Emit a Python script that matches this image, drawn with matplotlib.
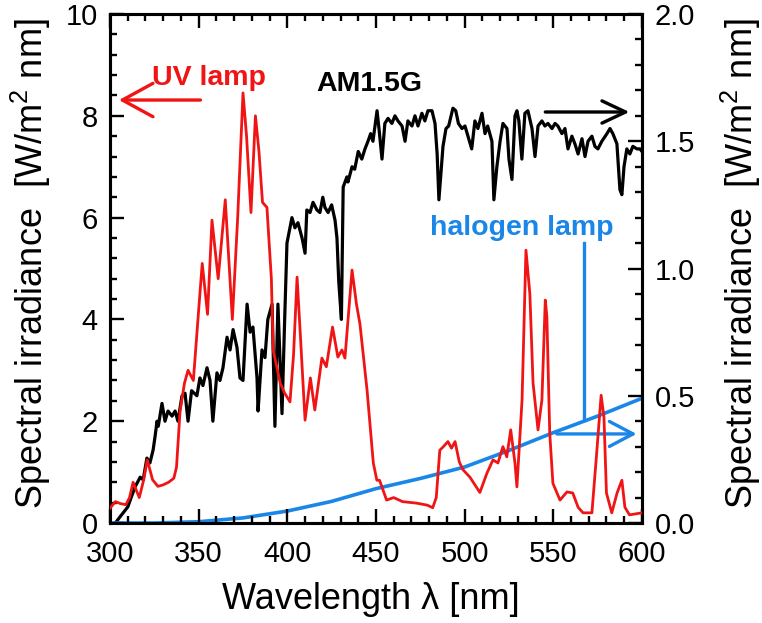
import matplotlib
matplotlib.use("Agg")
import matplotlib.pyplot as plt
from matplotlib.ticker import MultipleLocator

plt.rcParams['font.family'] = ['Liberation Sans', 'DejaVu Sans']
plt.rcParams['mathtext.fontset'] = 'custom'
plt.rcParams['mathtext.rm'] = 'Liberation Sans'

# UV lamp spectrum (left axis, W/m^2 nm)
uv_wl = [300, 303, 306, 309, 311, 313, 316.5, 319, 321, 324, 327, 330, 333, 336, 337.5, 339.5,
         342, 344, 347, 349.7, 352, 355, 357.5, 361, 365, 369, 372, 375, 377, 379.5, 382, 384,
         386, 388.5, 391, 392, 396, 398.5, 401.5, 403.5, 405.5, 407.5, 410, 413, 415.5, 419.5,
         422, 425.5, 428.5, 430.8, 432.5, 436.5, 439, 441, 445, 448.5, 450.5, 452, 456, 460,
         465, 473, 479, 482, 484, 486, 488, 490.6, 492.6, 494.6, 497, 499, 503, 508.6, 512.6,
         516, 518.8, 521.6, 523.8, 526, 528.4, 529.5, 532.4, 534.6, 536.8, 538.6, 541.4, 543.6,
         545.5, 546.4, 548, 549.8, 553.8, 557.7, 561, 564, 566.8, 571.8, 574.5, 577, 578.6,
         580, 583, 586, 588.7, 590.4, 593, 600]
uv_val = [0.29, 0.42, 0.38, 0.36, 0.5, 0.8, 0.5, 0.85, 1.24, 0.85, 0.72, 0.75, 0.8, 0.88, 1.1, 2.2,
          2.75, 3.0, 2.8, 4.05, 5.1, 4.1, 5.95, 4.8, 6.35, 4.0, 6.0, 8.45, 7.6, 6.1, 8.0, 7.3,
          6.3, 6.2, 4.8, 3.4, 2.75, 2.55, 2.38, 3.3, 4.83, 3.6, 2.02, 2.85, 2.22, 3.24,
          3.07, 3.85, 3.26, 3.4, 3.24, 4.97, 4.3, 3.9, 2.6, 1.18, 0.84, 0.84, 0.45, 0.5,
          0.42, 0.39, 0.35, 0.3, 0.5, 1.43, 1.5, 1.6, 1.47, 1.6, 1.2, 1.05, 0.9, 0.6, 0.98,
          1.24, 1.18, 1.5, 1.3, 1.83, 1.18, 0.71, 2.42, 5.36, 4.5, 2.75, 1.83, 2.42,
          4.38, 4.05, 1.77, 0.78, 0.45, 0.61, 0.59, 0.31, 0.2, 0.2, 1.38, 2.51, 2.08,
          0.59, 0.2, 0.59, 0.84, 0.31, 0.16, 0.2]

# AM1.5G spectrum (right axis, W/m^2 nm)
am_wl = [303, 305.6, 310, 314, 317, 318.7, 320.8, 322.5, 324.3, 325.4, 326.5, 327.2, 329.3, 331,
         332.7, 335, 336.7, 338.3, 340.6, 342.3, 344, 346, 349, 350.7, 352.4, 354.7, 356.4, 358,
         360.3, 362, 363.7, 366, 367.7, 369.4, 371.6, 373.3, 375, 377.3, 379, 380.6, 382.9,
         383.5, 385.7, 387.4, 389, 391.4, 393, 394.7, 397, 398.5, 399.8, 402.6, 404.3, 406,
         408.3, 410, 411, 412.8, 414.5, 416.7, 418.4, 420, 421.2, 423, 425, 426.9, 428, 429,
         430.5, 431.5, 433.6, 434.2, 436.5, 438, 440, 442, 443.8, 445.5, 447, 448.3, 450.6,
         451.7, 453.4, 455, 456.8, 459, 460.7, 462.4, 464.7, 466.4, 468, 470.3, 472, 473.7,
         475.9, 477.6, 479.3, 481.6, 483.3, 484.5, 485.5, 487.8, 489.5, 491, 493.4, 495,
         496.5, 498.5, 500.2, 501.9, 504, 505.8, 507.5, 509.8, 511.5, 513, 515.4, 516.5,
         518.2, 520, 521.6, 523.9, 525, 526.7, 528.4, 529.5, 530.6, 532.3, 534, 535.7, 538,
         539.7, 541.4, 543.6, 545.3, 547, 549.3, 551, 552.6, 554.9, 556.6, 558.3, 560.5,
         562.2, 564, 566.2, 567.9, 569.6, 571.8, 573.5, 575.2, 577.4, 580.3, 582, 583.6,
         585.9, 587.6, 588.7, 589.9, 591.5, 593.2, 594.9, 597.2, 598.9, 600]
am_val = [0.0, 0.024, 0.063, 0.14, 0.18, 0.17, 0.255, 0.236, 0.287, 0.34, 0.40, 0.38, 0.47, 0.40,
          0.44, 0.42, 0.44, 0.40, 0.50, 0.51, 0.40, 0.52, 0.50, 0.57, 0.54, 0.61, 0.56, 0.40,
          0.59, 0.56, 0.61, 0.73, 0.68, 0.76, 0.69, 0.57, 0.56, 0.86, 0.75, 0.77, 0.57,
          0.44, 0.68, 0.65, 0.80, 0.86, 0.38, 0.86, 0.43, 0.80, 1.10, 1.20, 1.16, 1.18,
          1.12, 1.06, 1.23, 1.22, 1.26, 1.23, 1.22, 1.28, 1.24, 1.22, 1.25, 1.19, 1.12, 0.95,
          0.80, 1.32, 1.36, 1.34, 1.40, 1.39, 1.46, 1.43, 1.47, 1.50, 1.53, 1.50, 1.62,
          1.55, 1.43, 1.57, 1.59, 1.57, 1.60, 1.58, 1.56, 1.50, 1.58, 1.56, 1.60, 1.56,
          1.61, 1.58, 1.62, 1.62, 1.57, 1.45, 1.27, 1.48, 1.55, 1.56, 1.63, 1.62,
          1.57, 1.55, 1.56, 1.52, 1.47, 1.58, 1.55, 1.61, 1.53, 1.56, 1.50, 1.27,
          1.40, 1.50, 1.57, 1.55, 1.43, 1.35, 1.60, 1.62, 1.58, 1.43, 1.61, 1.62, 1.55,
          1.44, 1.56, 1.58, 1.56, 1.57, 1.55, 1.57, 1.56, 1.53, 1.55, 1.47, 1.52,
          1.49, 1.45, 1.51, 1.44, 1.50, 1.52, 1.48, 1.47, 1.50, 1.53, 1.55, 1.53,
          1.49, 1.31, 1.29, 1.40, 1.47, 1.45, 1.48, 1.47, 1.47, 1.46]

# Halogen lamp spectrum (right axis, W/m^2 nm)
hal_wl = [300, 325, 350, 375, 400, 425, 450, 475, 500, 525, 550, 575, 600]
hal_val = [0.0, 0.0, 0.005, 0.02, 0.047, 0.085, 0.135, 0.175, 0.22, 0.285, 0.355, 0.42, 0.49]

RED = '#f01414'
BLUE = '#1a86e8'

fig = plt.figure(figsize=(7.62, 6.23), dpi=100)
ax = fig.add_axes([0.1444, 0.1605, 0.698, 0.817])
ax2 = ax.twinx()

ax2.plot(am_wl, am_val, color='black', lw=2.3, zorder=2, solid_joinstyle='round')
ax.plot(uv_wl, uv_val, color=RED, lw=2.0, zorder=3, solid_joinstyle='round')
ax2.plot(hal_wl, hal_val, color=BLUE, lw=2.6, zorder=4)

ax.set_zorder(ax2.get_zorder() + 1)
ax.patch.set_visible(False)

ax.set_xlim(300, 600)
ax.set_ylim(0, 10)
ax2.set_ylim(0, 2.0)

ax.xaxis.set_major_locator(MultipleLocator(50))
ax.xaxis.set_minor_locator(MultipleLocator(10))
ax.yaxis.set_major_locator(MultipleLocator(2))
ax.yaxis.set_minor_locator(MultipleLocator(0.4))
ax2.yaxis.set_major_locator(MultipleLocator(0.5))
ax2.yaxis.set_minor_locator(MultipleLocator(0.1))
ax2.yaxis.set_major_formatter(matplotlib.ticker.FormatStrFormatter('%.1f'))

for a in (ax, ax2):
    a.tick_params(which='major', direction='in', length=10, width=1.7, labelsize=21, pad=9)
    a.tick_params(which='minor', direction='in', length=5, width=1.7)
    for s in a.spines.values():
        s.set_linewidth(2.2)
ax.tick_params(axis='x', which='both', top=True)
ax.tick_params(axis='x', which='major', pad=12)

ylab = 'Spectral irradiance  [W/m$^2$ nm]'
ax.set_xlabel('Wavelength λ [nm]', fontsize=26)
ax.xaxis.set_label_coords(0.49, -0.115)
ax.set_ylabel(ylab, fontsize=26)
ax.yaxis.set_label_coords(-0.108, 0.51)
ax2.set_ylabel(ylab, fontsize=26)
ax2.yaxis.set_label_coords(1.145, 0.51)

# annotations
ax.text(356, 8.75, 'UV lamp', color=RED, fontsize=20.5, fontweight='bold', ha='center', va='center')
ax.annotate('', xy=(305, 8.31), xytext=(351, 8.31),
            arrowprops=dict(arrowstyle='->,head_length=1.1,head_width=0.6', color=RED, lw=2.4,
                            mutation_scale=20, shrinkA=0, shrinkB=0))
ax.text(446.5, 8.62, 'AM1.5G', color='black', fontsize=20.5, fontweight='bold', ha='center', va='center')
ax2.annotate('', xy=(593, 1.615), xytext=(545.5, 1.615),
             arrowprops=dict(arrowstyle='->,head_length=0.85,head_width=0.4', color='black', lw=2.4,
                             mutation_scale=20, shrinkA=0, shrinkB=0))
ax2.text(532, 1.16, 'halogen lamp', color=BLUE, fontsize=20.5, fontweight='bold', ha='center', va='center')
ax2.plot([567.3, 567.3], [1.10, 0.405], color=BLUE, lw=2.4)
ax2.annotate('', xy=(597, 0.35), xytext=(552, 0.35),
             arrowprops=dict(arrowstyle='->,head_length=0.85,head_width=0.45', color=BLUE, lw=2.4,
                             mutation_scale=20, shrinkA=0, shrinkB=0))

fig.savefig('out.png', dpi=100)
